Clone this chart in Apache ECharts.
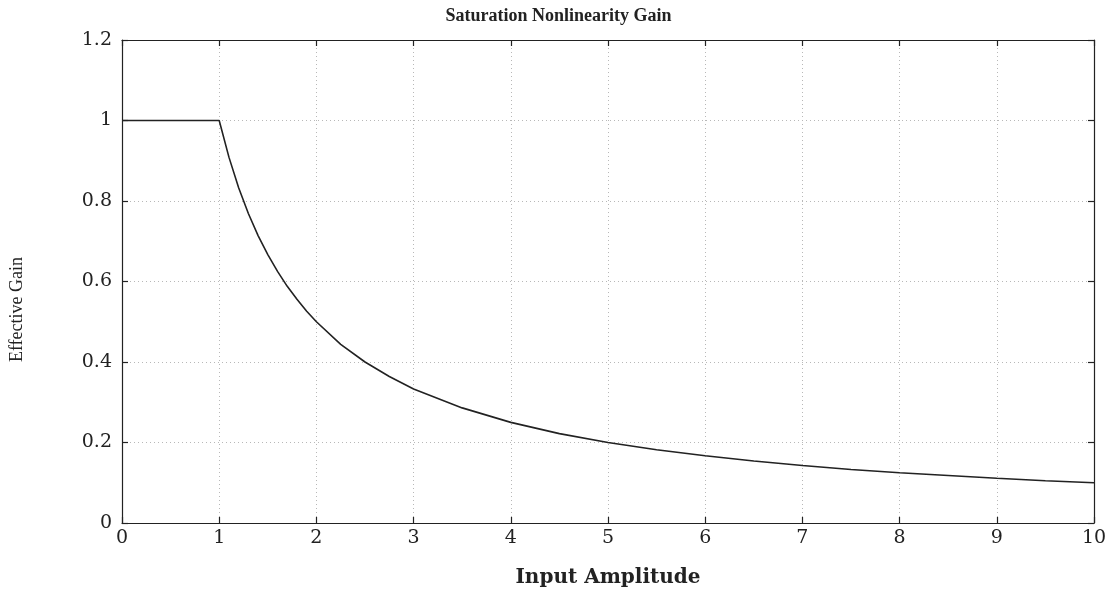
<!DOCTYPE html>
<html>
<head>
<meta charset="utf-8">
<script src="https://cdn.jsdelivr.net/npm/echarts@6/dist/echarts.min.js"></script>
<style>
html,body{margin:0;padding:0;background:#fff;}
#chart{width:1117px;height:590px;}
</style>
</head>
<body>
<div id="chart"></div>
<script>
const title = 'Saturation Nonlinearity Gain';
const xName = 'Input Amplitude';
const yName = 'Effective Gain';
const amplitude = [0,1,1.1,1.2,1.3,1.4,1.5,1.6,1.7,1.8,1.9,2,2.25,2.5,2.75,3,3.5,4,4.5,5,5.5,6,6.5,7,7.5,8,8.5,9,9.5,10];
const gain = [1,1,0.909,0.833,0.769,0.714,0.667,0.625,0.588,0.556,0.526,0.5,0.444,0.4,0.364,0.333,0.286,0.25,0.222,0.2,0.182,0.167,0.154,0.143,0.133,0.125,0.118,0.111,0.105,0.1];

const wide = '"DejaVu Serif", "Liberation Serif", serif';
const times = '"Liberation Serif", "DejaVu Serif", serif';
const chart = echarts.init(document.getElementById('chart'));
const axisLine = {show:true, onZero:false, lineStyle:{color:'#222', width:1.2}};
const tick = {show:true, inside:true, length:6, lineStyle:{color:'#222', width:1.2}};
const grid = {show:true, lineStyle:{color:'#b8b8b8', type:[1,3], width:1}};
chart.setOption({
  backgroundColor:'#fff',
  animation:false,
  title:{text:title, left:'center', top:2, textStyle:{fontFamily:times, fontSize:18, fontWeight:'bold', color:'#222'}},
  grid:{left:122, right:23, top:40, bottom:67, outerBoundsMode:'none', containLabel:false},
  xAxis:[
    {type:'value', min:0, max:10, interval:1, position:'bottom',
     name:xName, nameLocation:'middle', nameGap:45,
     nameTextStyle:{fontFamily:wide, fontSize:20, fontWeight:'bold', color:'#222'},
     axisLine:axisLine, axisTick:tick, splitLine:grid,
     axisLabel:{fontFamily:wide, fontSize:19, color:'#222', margin:6}},
    {type:'value', min:0, max:10, interval:1, position:'top',
     axisLine:axisLine, axisTick:tick, splitLine:{show:false}, axisLabel:{show:false}}
  ],
  yAxis:[
    {type:'value', min:0, max:1.2, interval:0.2, position:'left',
     name:yName, nameLocation:'middle', nameGap:96, nameRotate:90,
     nameTextStyle:{fontFamily:times, fontSize:18, color:'#222', padding:[0,56,0,0]},
     axisLine:axisLine, axisTick:tick, splitLine:grid,
     axisLabel:{fontFamily:wide, fontSize:19, color:'#222', margin:10,
       formatter:v=>String(Math.round(v*10)/10)}},
    {type:'value', min:0, max:1.2, interval:0.2, position:'right',
     axisLine:axisLine, axisTick:tick, splitLine:{show:false}, axisLabel:{show:false}}
  ],
  series:[{
    type:'line', data:amplitude.map((x,i)=>[x,gain[i]]),
    showSymbol:false, smooth:false,
    lineStyle:{color:'#222', width:1.6}
  }]
});
</script>
</body>
</html>
